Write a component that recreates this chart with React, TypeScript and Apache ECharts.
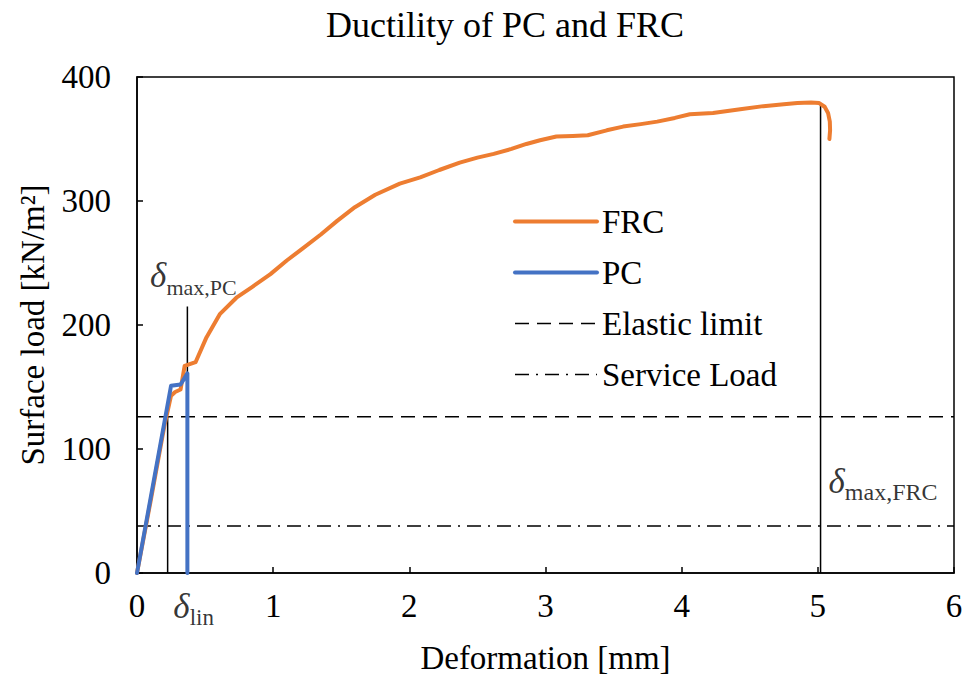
import React, { useEffect, useRef } from "react";
import * as echarts from "echarts";

const FONT = "'Liberation Serif', 'Times New Roman', serif";

const frcX = [0, 0.1, 0.2, 0.25, 0.28, 0.32, 0.35, 0.43, 0.51, 0.61, 0.73, 0.85, 0.98, 1.1, 1.22, 1.35, 1.47, 1.6, 1.75, 1.93, 2.08, 2.22, 2.37, 2.5, 2.62, 2.75, 2.86, 2.96, 3.08, 3.2, 3.31, 3.45, 3.57, 3.7, 3.82, 3.95, 4.06, 4.23, 4.43, 4.6, 4.75, 4.85, 4.95, 5.01, 5.05, 5.075, 5.088, 5.09, 5.085];
const frcY = [0, 58, 118, 143, 146, 148, 167, 170, 190, 209, 222, 231, 241, 252, 262, 273, 284, 295, 305, 314, 319, 325, 331, 335, 338, 342, 346, 349, 352, 352.5, 353, 357, 360, 362, 364, 367, 370, 371, 374, 376.5, 378, 379, 379.5, 379, 376, 371, 364, 357, 350];

const pcX = [0, 0.25, 0.32, 0.37, 0.37];
const pcY = [0, 151, 152, 161, 0];

const elasticLimit = 126;
const serviceLoad = 38;
const xRange = [0, 6];

const deltaLinX = 0.225;
const deltaLinTop = 126;
const deltaPcX = 0.37;
const deltaPcTop = 215;
const deltaFrcX = 5.02;
const deltaFrcTop = 379;
const deltaFrcLabelY = 72;

const legendNames = ["FRC", "PC", "Elastic limit", "Service Load"];

const zip = (xs: number[], ys: number[]) => xs.map((x, i) => [x, ys[i]]);

const makeRich = (subSize: number) => ({
  d: { fontSize: 35, fontStyle: "italic", fontFamily: FONT, color: "#000", lineHeight: 40, verticalAlign: "top" },
  s: { fontSize: subSize, fontFamily: FONT, color: "#000", verticalAlign: "bottom", padding: [8, 0, 0, 0] },
});

export default function App() {
  const ref = useRef<HTMLDivElement>(null);
  useEffect(() => {
    if (!ref.current) return;
    const chart = echarts.init(ref.current, undefined, { renderer: "svg" });
    const vline = (x: number, top: number) => ({
      type: "line",
      name: "v" + x,
      symbol: "none",
      silent: true,
      lineStyle: { color: "#000", width: 1.5 },
      data: [
        [x, 0],
        [x, top],
      ],
      z: 1,
    });
    const labelPoint = (x: number, y: number, label: any) => ({
      type: "scatter",
      name: "lab" + x,
      symbolSize: 0,
      silent: true,
      z: 5,
      data: [{ value: [x, y], label: { show: true, ...label } }],
    });
    chart.setOption({
      animation: false,
      backgroundColor: "#fff",
      textStyle: { fontFamily: FONT, color: "#000" },
      title: {
        text: "Ductility of PC and FRC",
        left: 500,
        textAlign: "center",
        top: 2,
        textStyle: { fontFamily: FONT, fontSize: 36, fontWeight: "normal", color: "#000" },
      },
      grid: { left: 137, right: 13, top: 77, bottom: 102, show: true, borderColor: "#000", borderWidth: 1.5 },
      legend: {
        data: legendNames,
        orient: "vertical",
        left: 508,
        top: 200,
        itemWidth: 82,
        itemHeight: 14,
        itemGap: 18,
        itemStyle: { opacity: 0 },
        lineStyle: { width: "inherit" },
        textStyle: { fontFamily: FONT, fontSize: 33, color: "#000", lineHeight: 33 },
      },
      xAxis: {
        type: "value",
        min: 0,
        max: 6,
        interval: 1,
        name: "Deformation [mm]",
        nameLocation: "middle",
        nameGap: 68,
        nameTextStyle: { fontFamily: FONT, fontSize: 33, color: "#000" },
        axisLine: { lineStyle: { color: "#000", width: 1.5 } },
        axisTick: { inside: true, length: 6, lineStyle: { color: "#000", width: 1.5 } },
        axisLabel: { fontFamily: FONT, fontSize: 33, color: "#000", margin: 16 },
        splitLine: { show: false },
      },
      yAxis: {
        type: "value",
        min: 0,
        max: 400,
        interval: 100,
        name: "Surface load [kN/m²]",
        nameLocation: "middle",
        nameGap: 88,
        nameTextStyle: { fontFamily: FONT, fontSize: 33, color: "#000" },
        axisLine: { show: true, lineStyle: { color: "#000", width: 1.5 } },
        axisTick: { show: true, inside: true, length: 6, lineStyle: { color: "#000", width: 1.5 } },
        axisLabel: { fontFamily: FONT, fontSize: 33, color: "#000", margin: 26 },
        splitLine: { show: false },
      },
      series: [
        {
          type: "line",
          name: "FRC",
          symbol: "none",
          color: "#ED7D31",
          lineStyle: { color: "#ED7D31", width: 4, cap: "round", join: "round" },
          data: zip(frcX, frcY),
          z: 3,
        },
        {
          type: "line",
          name: "PC",
          symbol: "none",
          color: "#4472C4",
          lineStyle: { color: "#4472C4", width: 4, cap: "round", join: "round" },
          data: zip(pcX, pcY),
          z: 4,
        },
        {
          type: "line",
          name: "Elastic limit",
          symbol: "none",
          color: "#000",
          lineStyle: { color: "#000", width: 1.5, type: [14, 8] },
          data: xRange.map((x) => [x, elasticLimit]),
          z: 2,
        },
        {
          type: "line",
          name: "Service Load",
          symbol: "none",
          color: "#000",
          lineStyle: { color: "#000", width: 1.5, type: [14, 7, 2, 7] },
          data: xRange.map((x) => [x, serviceLoad]),
          z: 2,
        },
        vline(deltaLinX, deltaLinTop),
        vline(deltaPcX, deltaPcTop),
        vline(deltaFrcX, deltaFrcTop),
        labelPoint(deltaLinX, 0, {
          position: "bottom",
          distance: 16,
          offset: [26, 0],
          formatter: "{d|δ}{s|lin}",
          rich: makeRich(23),
        }),
        labelPoint(deltaPcX, deltaPcTop, {
          position: "top",
          distance: 8,
          offset: [6, 0],
          formatter: "{d|δ}{s|max,PC}",
          rich: makeRich(22),
        }),
        labelPoint(deltaFrcX, deltaFrcLabelY, {
          position: "right",
          distance: 8,
          formatter: "{d|δ}{s|max,FRC}",
          rich: makeRich(24),
        }),
      ],
    });
    return () => chart.dispose();
  }, []);
  return <div ref={ref} style={{ position: "fixed", left: 0, top: 0, width: 967, height: 679 }} />;
}
